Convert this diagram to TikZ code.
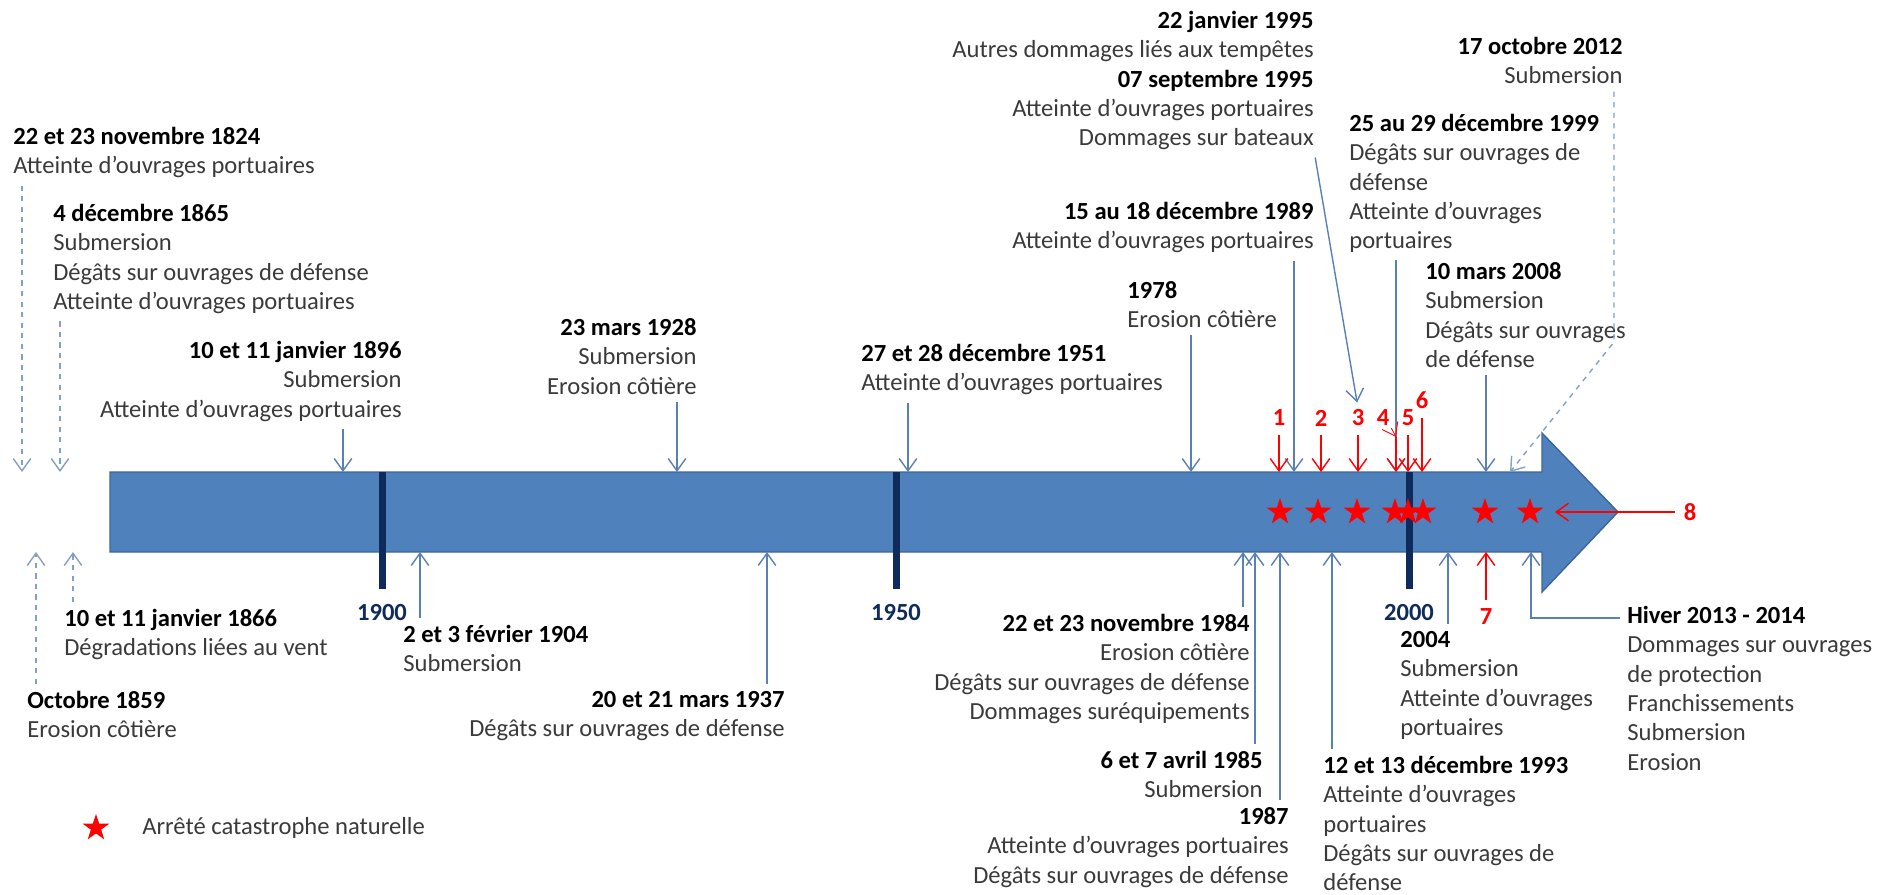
\documentclass[tikz,border=0pt]{standalone}
\usepackage{fontspec}
\setmainfont{Carlito}
\usetikzlibrary{arrows.meta,shapes.geometric}
\definecolor{barblue}{HTML}{4F81BD}
\definecolor{barline}{HTML}{3C6699}
\definecolor{navy}{HTML}{0F2B5B}
\definecolor{evtblue}{HTML}{5A80B8}
\definecolor{txtgray}{HTML}{3A3A3A}
\definecolor{catred}{HTML}{FF0000}
\newcommand{\dt}[1]{{\bfseries\color{black}#1}}

\begin{document}
\begin{tikzpicture}[x=0.02cm,y=-0.02cm,
  txt/.style={font=\fontsize{14}{16.7}\selectfont,inner sep=0,text=txtgray},
  txtl/.style={txt,align=left,anchor=north west},
  txtr/.style={txt,align=right,anchor=north east},
  evt/.style={-{Straight Barb[length=7pt,width=10pt]},draw=evtblue,line width=0.8pt,shorten <=4pt},
  old/.style={evt,dashed,draw=evtblue!75},
  cat/.style={-{Straight Barb[length=7pt,width=10pt]},draw=catred,line width=0.8pt},
  num/.style={font=\fontsize{14}{16.7}\selectfont\bfseries,text=catred,inner sep=1pt},
  star5/.style={star,star points=5,star point ratio=2.6,fill=catred,inner sep=0,minimum size=0.56cm},
  tick/.style={draw=navy,line width=0.14cm},
  yearlbl/.style={font=\fontsize{14}{16.7}\selectfont\bfseries,text=navy}]
  \useasboundingbox (0,0) rectangle (1881,894);

  %frise
  \fill[barblue,draw=barline,line width=0.8pt] (110,472) -- (1542,472) -- (1542,433) -- (1618,512)
    -- (1542,592) -- (1542,552) -- (110,552) -- cycle;
  \coordinate (top) at (0,472);
  \coordinate (bot) at (0,552);
  \foreach \x/\yr in {382/1900,896/1950,1409/2000}{
    \draw[tick] (\x,472) -- (\x,589);
    \node[yearlbl] (y\yr) at (\x,613) {\yr};
  }
  \foreach \x [count=\i] in {1280,1318,1357,1395,1408,1423,1485,1530}
    \node[star5] (s\i) at (\x,512) {};

  %evenements au-dessus
  \node[txtl] (n1824) at (13,127) {\dt{22 et 23 novembre 1824}\\Atteinte d'ouvrages portuaires};
  \node[txtl] (n1865) at (53,204) {\dt{4 décembre 1865}\\Submersion\\Dégâts sur ouvrages de défense\\Atteinte d'ouvrages portuaires};
  \node[txtr] (n1896) at (402,341) {\dt{10 et 11 janvier 1896}\\Submersion\\Atteinte d'ouvrages portuaires};
  \node[txtr] (n1928) at (697,318) {\dt{23 mars 1928}\\Submersion\\Erosion côtière};
  \node[txtl] (n1951) at (861,344) {\dt{27 et 28 décembre 1951}\\Atteinte d'ouvrages portuaires};
  \node[txtl] (n1978) at (1127,281) {\dt{1978}\\Erosion côtière};
  \node[txtr] (n1989) at (1314,202) {\dt{15 au 18 décembre 1989}\\Atteinte d'ouvrages portuaires};
  \node[txtr] (n1995) at (1314,11) {\dt{22 janvier 1995}\\Autres dommages liés aux tempêtes\\\dt{07 septembre 1995}\\Atteinte d'ouvrages portuaires\\Dommages sur bateaux};
  \node[txtl] (n1999) at (1349,114) {\dt{25 au 29 décembre 1999}\\Dégâts sur ouvrages de\\défense\\Atteinte d'ouvrages\\portuaires};
  \node[txtl] (n2008) at (1425,262) {\dt{10 mars 2008}\\Submersion\\Dégâts sur ouvrages\\de défense};
  \node[txtr] (n2012) at (1623,37) {\dt{17 octobre 2012}\\Submersion};

  %evenements au-dessous
  \node[txtl] (n1859) at (27,691) {\dt{Octobre 1859}\\Erosion côtière};
  \node[txtl] (n1866) at (64,609) {\dt{10 et 11 janvier 1866}\\Dégradations liées au vent};
  \node[txtl] (n1904) at (403,625) {\dt{2 et 3 février 1904}\\Submersion};
  \node[txtr] (n1937) at (785,691) {\dt{20 et 21 mars 1937}\\Dégâts sur ouvrages de défense};
  \node[txtr] (n1984) at (1250,614) {\dt{22 et 23 novembre 1984}\\Erosion côtière\\Dégâts sur ouvrages de défense\\Dommages suréquipements};
  \node[txtr] (n1985) at (1263,751) {\dt{6 et 7 avril 1985}\\Submersion};
  \node[txtr] (n1987) at (1289,807) {\dt{1987}\\Atteinte d'ouvrages portuaires\\Dégâts sur ouvrages de défense};
  \node[txtl] (n1993) at (1323,756) {\dt{12 et 13 décembre 1993}\\Atteinte d'ouvrages\\portuaires\\Dégâts sur ouvrages de\\défense};
  \node[txtl] (n2004) at (1400,631) {\dt{2004}\\Submersion\\Atteinte d'ouvrages\\portuaires};
  \node[txtl] (nHiver) at (1627,606) {\dt{Hiver 2013 - 2014}\\Dommages sur ouvrages\\de protection\\Franchissements\\Submersion\\Erosion};

  %arretes
  \foreach \i/\x/\y in {1/1279/418,2/1321/418,3/1358/418,4/1383/418,5/1408/418,6/1422/400}
    \node[num] (r\i) at (\x,\y) {\i};
  \node[num] (r7) at (1486,617) {7};
  \node[num] (r8) at (1690,512) {8};

  %fleches
  \draw[old] (22,0 |- n1824.south) -- (22,0 |- top);
  \draw[old] (60,0 |- n1865.south) -- (60,0 |- top);
  \draw[old] (36,0 |- n1859.north) -- (36,0 |- bot);
  \draw[old] (73,0 |- n1866.north) -- (73,0 |- bot);
  \draw[evt] (343,0 |- n1896.south) -- (343,0 |- top);
  \draw[evt] (420,0 |- n1904.north) -- (420,0 |- bot);
  \draw[evt] (677,0 |- n1928.south) -- (677,0 |- top);
  \draw[evt] (767,0 |- n1937.north) -- (767,0 |- bot);
  \draw[evt] (908,0 |- n1951.south) -- (908,0 |- top);
  \draw[evt] (1191,0 |- n1978.south) -- (1191,0 |- top);
  \draw[evt] (1243,0 |- n1984.north) -- (1243,0 |- bot);
  \draw[evt] (1255,0 |- n1985.north) -- (1255,0 |- bot);
  \draw[evt] (1280,0 |- n1987.north) -- (1280,0 |- bot);
  \draw[evt] (1294,0 |- n1989.south) -- (1294,0 |- top);
  \draw[evt] (1332,0 |- n1993.north) -- (1332,0 |- bot);
  \draw[evt,shorten >=3pt] (n1995.south east) -- (r3.north);
  \draw[evt] (1396,0 |- n1999.south) -- (1396,0 |- top);
  \draw[evt] (1448,0 |- n2004.north) -- (1448,0 |- bot);
  \draw[evt] (1486,0 |- n2008.south) -- (1486,0 |- top);
  \coordinate (k2012) at (1614,342);
  \draw[old] (1614,0 |- n2012.south) -- (k2012) -- (1510,0 |- top);
  \draw[evt] (nHiver.west |- 0,618) -| (1531,0 |- bot);

  \foreach \i in {1,2,3,5,6}
    \draw[cat,shorten <=4pt] (r\i.south) -- (r\i.south |- top);
  \draw[cat,line width=0.5pt] (r4.south east) -- (1396,437);
  \draw[cat] (1396,437) -- (1396,0 |- top);
  \draw[cat,shorten <=4pt] (r7.north) -- (r7.north |- bot);
  \draw[cat,shorten <=4pt] (r8.west) -- (1555,0 |- r8.west);

  %legende
  \node[star5] (leg) at (96,828) {};
  \node[txt,anchor=west] (legtxt) at (142,828) {Arrêté catastrophe naturelle};
\end{tikzpicture}
\end{document}
